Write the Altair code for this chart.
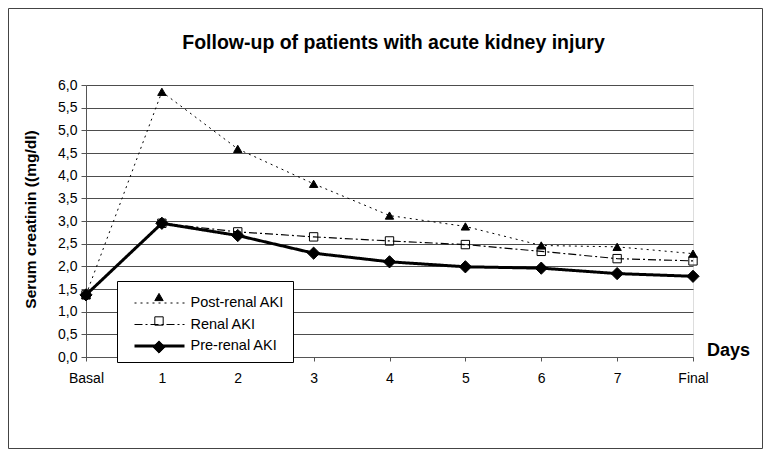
import altair as alt
import pandas as pd

days = ["Basal", "1", "2", "3", "4", "5", "6", "7", "Final"]
series_names = ["Post-renal AKI", "Renal AKI", "Pre-renal AKI"]
post_renal = [1.37, 5.85, 4.59, 3.82, 3.12, 2.88, 2.46, 2.43, 2.28]
renal = [1.37, 2.95, 2.76, 2.65, 2.56, 2.48, 2.33, 2.17, 2.12]
pre_renal = [1.37, 2.95, 2.68, 2.29, 2.10, 1.99, 1.96, 1.84, 1.78]
y_ticks = [0, 0.5, 1, 1.5, 2, 2.5, 3, 3.5, 4, 4.5, 5, 5.5, 6]

rows = []
for name, vals in zip(series_names, [post_renal, renal, pre_renal]):
    for d, v in zip(days, vals):
        rows.append({"Day": d, "Value": v, "Series": name, "SeriesPt": name,
                     "order": series_names.index(name)})
df = pd.DataFrame(rows)

FONT = "Liberation Sans"
W, H = 607, 272

x_enc = alt.X("Day:N", sort=days,
              scale=alt.Scale(domain=days, padding=0),
              axis=alt.Axis(title="Days", labelAngle=0, grid=False,
                            tickSize=4, labelPadding=10, labelFontSize=14,
                            labelFont=FONT, labelColor="#000",
                            titleFont=FONT, titleFontSize=18, titleFontWeight="bold",
                            titleColor="#000", titleX=642, titleY=-7,
                            titleAlign="center", titleBaseline="middle", titleAngle=0,
                            domainColor="#555", tickColor="#555"))
y_enc = alt.Y("Value:Q", scale=alt.Scale(domain=[0, 6], nice=False),
              axis=alt.Axis(title="Serum creatinin ((mg/dl)", values=y_ticks,
                            labelExpr="replace(format(datum.value, '.1f'), '.', ',')",
                            tickSize=5, labelPadding=4, labelFontSize=14,
                            labelFont=FONT, labelColor="#000",
                            titleFont=FONT, titleFontSize=15.5, titleFontWeight="bold",
                            titleColor="#000", titleX=-56, titleY=134, titleAngle=-90,
                            titleAlign="center", titleBaseline="middle",
                            grid=True, gridColor="#4d4d4d", gridWidth=1,
                            domainColor="#555", tickColor="#555"))

LINE_PATH = "M-2,0H2"

line_legend = alt.Legend(title=None, orient="none", legendX=31, legendY=196,
                         fillColor="white", strokeColor="black", padding=9,
                         symbolType=LINE_PATH, symbolSize=625, symbolStrokeColor="black",
                         symbolOffset=19.5, labelFont=FONT, labelFontSize=14.5,
                         labelColor="#000", rowPadding=1, labelOffset=17)
point_legend = alt.Legend(title=None, orient="none", legendX=31, legendY=196,
                          padding=9, symbolOffset=26, labelOpacity=0,
                          symbolStrokeColor="black", symbolStrokeWidth=1,
                          labelFont=FONT, labelFontSize=14, rowPadding=10)

lines = alt.Chart(df).mark_line(color="black").encode(
    x=x_enc, y=y_enc,
    strokeDash=alt.StrokeDash("Series:N",
        scale=alt.Scale(domain=series_names, range=[[2, 4], [8, 3, 2, 3], [1, 0]]),
        legend=line_legend),
    strokeWidth=alt.StrokeWidth("Series:N",
        scale=alt.Scale(type="ordinal", domain=series_names, range=[1, 1.2, 3]),
        legend=line_legend),
    order="order:Q",
)

points = alt.Chart(df).mark_point(strokeWidth=1, opacity=1).encode(
    x=x_enc, y=y_enc,
    shape=alt.Shape("SeriesPt:N",
        scale=alt.Scale(domain=series_names, range=["triangle-up", "square", "diamond"]),
        legend=point_legend),
    fill=alt.Fill("SeriesPt:N",
        scale=alt.Scale(domain=series_names, range=["black", "transparent", "black"]),
        legend=point_legend),
    stroke=alt.Stroke("SeriesPt:N",
        scale=alt.Scale(domain=series_names, range=["black", "black", "black"]),
        legend=point_legend),
    size=alt.Size("SeriesPt:N",
        scale=alt.Scale(type="ordinal", domain=series_names, range=[70, 70, 150]),
        legend=point_legend),
    order="order:Q",
)

border = alt.Chart(pd.DataFrame({"a": [0]})).mark_rect(
    fillOpacity=0, stroke="#444", strokeWidth=1
).encode(x=alt.value(-77.5), x2=alt.value(676.5), y=alt.value(-76.5), y2=alt.value(363.5))

chart = alt.layer(border, lines, points).resolve_legend(
    strokeDash="independent", shape="independent", strokeWidth="independent",
    fill="independent", size="independent", stroke="independent"
).properties(
    width=W, height=H,
    autosize="none",
    padding={"left": 78, "top": 77, "right": 72, "bottom": 92},
    title=alt.TitleParams("Follow-up of patients with acute kidney injury",
                          font=FONT, fontSize=19.5, fontWeight="bold", color="#000",
                          anchor="middle", frame="group", offset=-45, dx=4),
).configure_view(fill="#b3b3b3", stroke="#808080").configure(background="white")

chart.save("out.html", embed_options={"renderer": "svg", "actions": False})
